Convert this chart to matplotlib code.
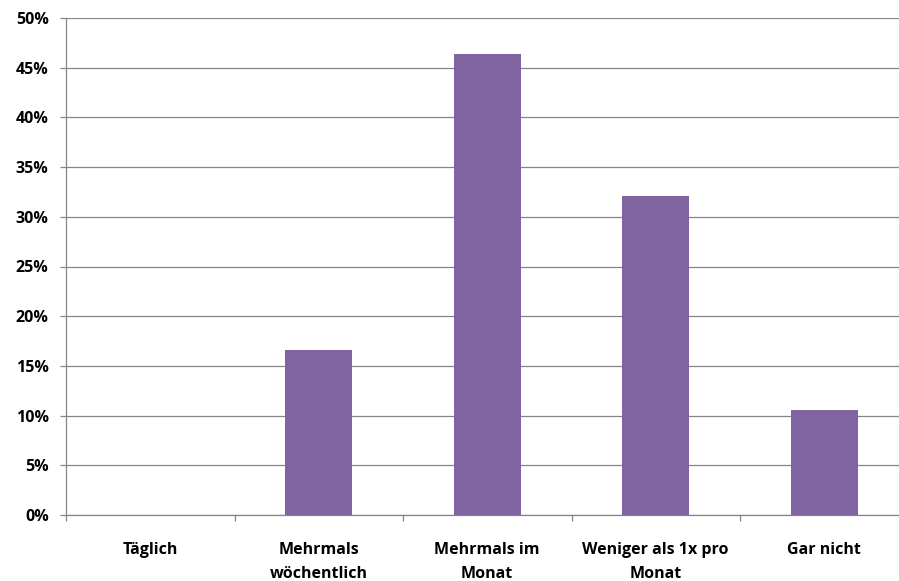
import matplotlib.pyplot as plt
import numpy as np
from matplotlib.ticker import PercentFormatter, MultipleLocator, FixedLocator

categories = ["Täglich", "Mehrmals\nwöchentlich", "Mehrmals im\nMonat", "Weniger als 1x pro\nMonat", "Gar nicht"]
values = [0.0, 16.6, 46.4, 32.1, 10.6]

plt.rcParams['font.family'] = ['Open Sans', 'DejaVu Sans']
plt.rcParams['font.weight'] = 'bold'

fig = plt.figure(figsize=(8.99, 5.81), dpi=100)
ax = fig.add_axes([66 / 899, 1 - 515 / 581, 842.5 / 899, 497 / 581])

x = np.arange(len(categories))
ax.bar(x, values, width=0.4, color="#8064A2", zorder=3)

ax.set_xlim(-0.5, len(categories) - 0.5)
ax.set_ylim(0, 50)
ax.yaxis.set_major_locator(MultipleLocator(5))
ax.yaxis.set_major_formatter(PercentFormatter(decimals=0))
ax.grid(axis="y", color="#868686", linewidth=0.9, zorder=0)

ax.set_xticks(x)
ax.set_xticklabels(categories, fontsize=11.5, fontweight="bold", linespacing=1.62)
ax.xaxis.set_minor_locator(FixedLocator(np.arange(-0.5, len(categories), 1.0)))
ax.tick_params(axis="x", which="major", length=0, pad=19.5)
ax.tick_params(axis="x", which="minor", length=4.5, color="#868686", width=0.9)
ax.tick_params(axis="y", length=4.5, color="#868686", width=0.9, pad=8, labelsize=11.5)
for lab in ax.get_yticklabels():
    lab.set_fontweight("bold")

for side in ["top", "right"]:
    ax.spines[side].set_visible(False)
for side in ["left", "bottom"]:
    ax.spines[side].set_color("#868686")
    ax.spines[side].set_linewidth(0.9)

fig.savefig("out.png", dpi=100)
